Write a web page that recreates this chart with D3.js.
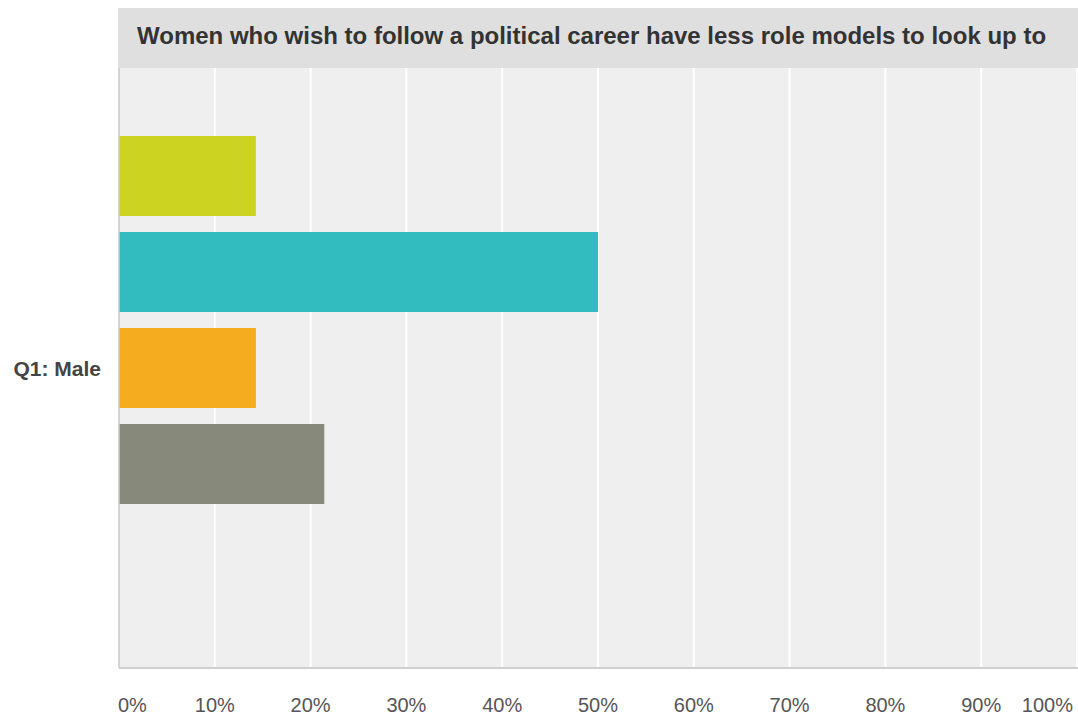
<!DOCTYPE html>
<html>
<head>
<meta charset="utf-8">
<script src="https://cdn.jsdelivr.net/npm/d3@7"></script>
<style>
  html, body { margin: 0; padding: 0; background: #fff; }
  svg { display: block; font-family: "Liberation Sans", Arial, Helvetica, sans-serif; }
</style>
</head>
<body>
<svg id="chart" width="1078" height="716"></svg>
<script>
// Chart content
const chartTitle = "Women who wish to follow a political career have less role models to look up to";
const categories = ["Q1: Male"];
const answerKeys = ["a1", "a2", "a3", "a4", "a5"];
const answerValues = [14.29, 50, 14.29, 21.43, 0];   // percent of respondents
const answerColors = ["#cdd321", "#33bcbf", "#f5ac1e", "#878a7a", "#6a8fb5"];
const tickValues = [0, 10, 20, 30, 40, 50, 60, 70, 80, 90, 100];

const svg = d3.select("#chart");
const W = 1078, H = 716;
const plot = { left: 119, right: 1077, top: 68, bottom: 668 };

// title bar
svg.append("rect")
  .attr("x", 118).attr("y", 8)
  .attr("width", W - 118).attr("height", plot.top - 8)
  .attr("fill", "#dfdfdf");
svg.append("text")
  .attr("x", 137).attr("y", 44)
  .attr("font-size", 24).attr("font-weight", "bold")
  .attr("fill", "#333")
  .text(chartTitle);

// plot background
svg.append("rect")
  .attr("x", plot.left).attr("y", plot.top)
  .attr("width", W - plot.left).attr("height", plot.bottom - plot.top)
  .attr("fill", "#efefef");

const x = d3.scaleLinear().domain([0, 100]).range([plot.left, plot.right]);
const yCat = d3.scaleBand().domain(categories).range([plot.top, plot.bottom]).paddingInner(0).paddingOuter(0);
const ySeries = d3.scaleBand().domain(answerKeys)
  .range([0, yCat.bandwidth()])
  .paddingInner(1 / 6).paddingOuter(0.7083);

// vertical grid lines
svg.append("g")
  .selectAll("line")
  .data(tickValues.slice(1))
  .join("line")
  .attr("x1", d => x(d)).attr("x2", d => x(d))
  .attr("y1", plot.top).attr("y2", plot.bottom)
  .attr("stroke", "#ffffff").attr("stroke-width", 2);

// bars
const rows = answerKeys.map((k, i) => ({ key: k, value: answerValues[i], color: answerColors[i] }));
svg.append("g")
  .selectAll("rect")
  .data(rows.filter(d => d.value > 0))
  .join("rect")
  .attr("x", x(0))
  .attr("y", d => yCat(categories[0]) + ySeries(d.key))
  .attr("width", d => x(d.value) - x(0))
  .attr("height", ySeries.bandwidth())
  .attr("fill", d => d.color);

// axis lines
svg.append("line")
  .attr("x1", plot.left).attr("x2", plot.left)
  .attr("y1", plot.top).attr("y2", plot.bottom)
  .attr("stroke", "#c8c8c8").attr("stroke-width", 1.5);
svg.append("line")
  .attr("x1", plot.left).attr("x2", W)
  .attr("y1", plot.bottom).attr("y2", plot.bottom)
  .attr("stroke", "#cfcfcf").attr("stroke-width", 2);

// x tick labels (end labels kept inside the plot)
svg.append("g")
  .selectAll("text")
  .data(tickValues)
  .join("text")
  .attr("x", d => d === 0 ? x(d) - 1 : d === 100 ? x(d) - 4 : x(d))
  .attr("y", 712)
  .attr("text-anchor", d => d === 0 ? "start" : d === 100 ? "end" : "middle")
  .attr("font-size", 20)
  .attr("fill", "#555")
  .text(d => d + "%");

// category label
svg.append("g")
  .selectAll("text")
  .data(categories)
  .join("text")
  .attr("x", 101)
  .attr("y", d => yCat(d) + yCat.bandwidth() / 2 + 8)
  .attr("text-anchor", "end")
  .attr("font-size", 21).attr("font-weight", "bold")
  .attr("fill", "#444")
  .text(d => d);
</script>
</body>
</html>
